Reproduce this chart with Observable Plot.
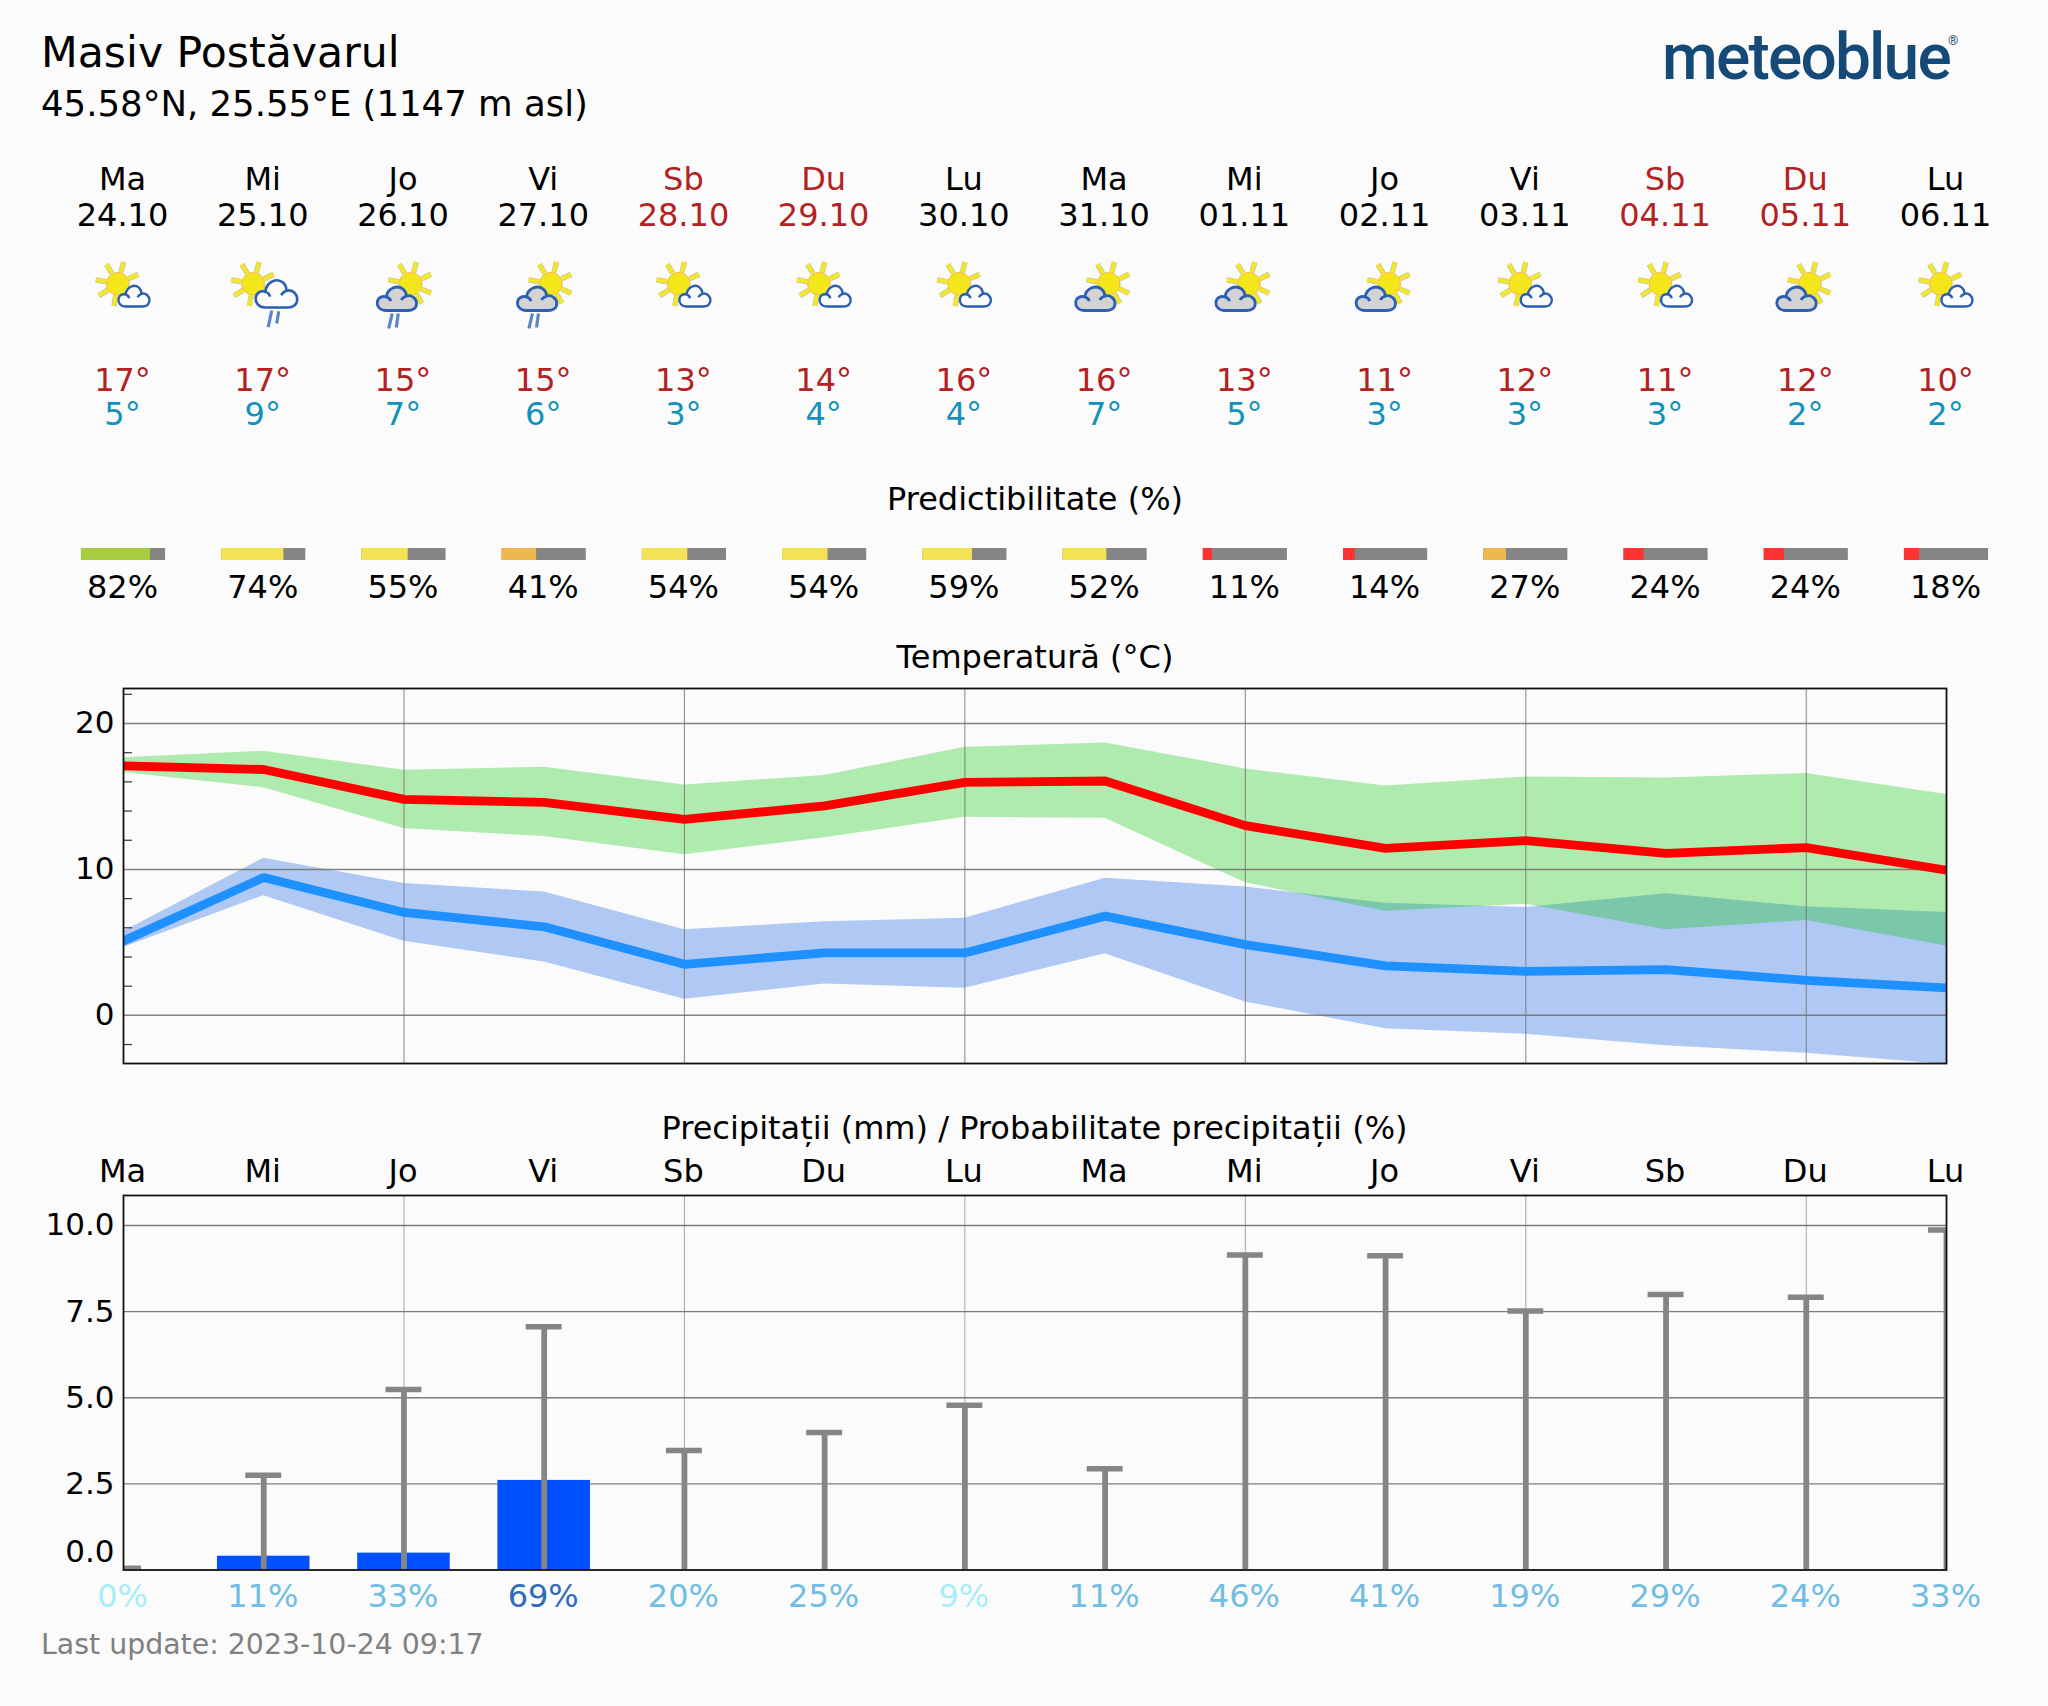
<!DOCTYPE html>
<html><head><meta charset="utf-8">
<script src="https://cdn.jsdelivr.net/npm/d3@7"></script>
<script src="https://cdn.jsdelivr.net/npm/@observablehq/plot@0.6"></script>
<style>
html,body{margin:0;padding:0;background:#fbfbfb}
#page{position:relative;width:2048px;height:1706px;overflow:hidden;background:#fbfbfb;font-family:"DejaVu Sans",sans-serif}
#page>div,#page>figure,#page>svg{position:absolute;margin:0}
.t{white-space:nowrap;line-height:1}
svg{background:transparent!important;overflow:visible}
</style></head><body><div id="page"></div>
<script>
const dayNames=["Ma","Mi","Jo","Vi","Sb","Du","Lu","Ma","Mi","Jo","Vi","Sb","Du","Lu"];
const dates=["24.10","25.10","26.10","27.10","28.10","29.10","30.10","31.10","01.11","02.11","03.11","04.11","05.11","06.11"];
const iconKinds=["A","B","C","C","A","A","A","D","D","D","A","A","D","A"];
const hiLabels=[17,17,15,15,13,14,16,16,13,11,12,11,12,10];
const loLabels=[5,9,7,6,3,4,4,7,5,3,3,3,2,2];
const predictability=[82,74,55,41,54,54,59,52,11,14,27,24,24,18];
const tMax=[17.1,16.85,14.8,14.6,13.43,14.35,15.97,16.06,13.0,11.44,11.97,11.1,11.5,9.95];
const tMaxHi=[17.65,18.1,16.8,17.0,15.79,16.43,18.37,18.67,16.89,15.72,16.34,16.27,16.57,15.13];
const tMaxLo=[16.65,15.6,12.8,12.25,11.0,12.17,13.57,13.5,9.08,7.14,7.62,5.86,6.5,4.76];
const tMin=[5.1,9.45,7.05,6.07,3.5,4.28,4.28,6.8,4.85,3.39,3.02,3.13,2.4,1.88];
const tMinHi=[5.75,10.77,9.03,8.45,5.86,6.41,6.66,9.4,8.79,7.69,7.39,8.33,7.44,7.05];
const tMinLo=[4.65,8.2,5.07,3.65,1.1,2.15,1.85,4.23,0.92,-0.91,-1.3,-2.08,-2.6,-3.36];
const precip=[0,0.4,0.49,2.6,0,0,0,0,0,0,0,0,0,0];
const precipMax=[0.05,2.75,5.24,7.06,3.47,3.99,4.78,2.94,9.14,9.12,7.52,8.0,7.92,9.87];
const precipProb=[0,11,33,69,20,25,9,11,46,41,19,29,24,33];
const tempTicks=[0,10,20], tempMinor=[-2,2,4,6,8,12,14,16,18,22], precipTicks=[2.5,5,7.5,10];

const days=dayNames.map((_,i)=>i);
const font='"DejaVu Sans",sans-serif';
const frame={width:2048,marginLeft:123,marginRight:102};
const xDom={domain:[0,13]};
const weekend=i=>dayNames[i]==="Sb"||dayNames[i]==="Du";
const RED="#b22222",INK="#000";
const page=document.getElementById("page");
function place(el,top,left=0){el.style.top=top+"px";el.style.left=left+"px";page.appendChild(el);}
function label(text,x,base,size,color,extra=""){
  const d=document.createElement("div");d.className="t";d.textContent=text;
  d.style.cssText+=`font-size:${size}px;color:${color};${extra}`;
  place(d,base-0.846*size,x);return d;
}
/* weather icons */
function sun(cx,cy){
  const angs=[25,60,100,148,190,240,285,335];
  const ray=(s,w)=>angs.map(a=>{const r=a*Math.PI/180;
    return `<line x1="${cx+12*Math.cos(r)}" y1="${cy+12*Math.sin(r)}" x2="${cx+22.5*Math.cos(r)}" y2="${cy+22.5*Math.sin(r)}" stroke="${s}" stroke-width="${w}"/>`}).join("");
  return ray("#c9c6a0",5.4)+ray("#f4e826",3.8)+`<circle cx="${cx}" cy="${cy}" r="11.4" fill="#f3e71c" stroke="#f6b64a" stroke-width="1"/>`;
}
function cloud(x,y,w,h,fill,sw){
  const sx=w/96,sy=h/64;
  return `<g transform="translate(${x-2*sx} ${y-4*sy}) scale(${sx} ${sy})"><path vector-effect="non-scaling-stroke" fill="${fill}" stroke="#2a5fb3" stroke-width="${sw}" stroke-linejoin="round" d="M24 68C8 68 1 57 2 47C3 36 13 30 24 33C27 12 50 1 65 13C71 18 73 25 73 31C86 27 98 38 98 50C98 62 88 68 76 68Z"/><path vector-effect="non-scaling-stroke" fill="none" stroke="#2a5fb3" stroke-width="${sw}" d="M24 33C30 35 34 39 35 44M73 31C68 33 63 36 61 41"/></g>`;
}
function rain(a){return a.map(([x1,y1,x2,y2])=>`<line x1="${x1}" y1="${y1}" x2="${x2}" y2="${y2}" stroke="#5a86c6" stroke-width="3.2"/>`).join("");}
const iconBody={
  A:sun(34.3,28.3)+cloud(35,29,31,22,"#fbfbfb",2.4),
  B:sun(29.5,28.3)+cloud(32,23,41.5,29,"#fbfbfb",2.6)+rain([[48,55,44.5,71.7],[55,55.7,53,68]]),
  C:sun(46.6,28.3)+cloud(13.3,30,39.3,25,"#d3d3d3",2.8)+rain([[28.3,58,24.7,73],[34.3,58,32.3,72]]),
  D:sun(43.6,28.3)+cloud(10.6,30,39.3,25,"#d3d3d3",2.8)
};
const iconSrc=k=>"data:image/svg+xml,"+encodeURIComponent(`<svg xmlns="http://www.w3.org/2000/svg" width="80" height="80" viewBox="0 0 80 80">${iconBody[k]}</svg>`);

/* title block */
label("Masiv Postăvarul",41,66.7,42.6,INK);
label("45.58°N, 25.55°E (1147 m asl)",41,116,35.5,INK);
label("Last update: 2023-10-24 09:17",41,1655,28.4,"#808080");
label("meteoblue",1662,80,64,"#154a78",'font-family:Roboto,sans-serif;font-weight:500;letter-spacing:-1.8px;');
label("®",1948,45,13,"#154a78",'font-family:Roboto,sans-serif;');

/* header rows drawn on the shared day scale */
const textRow=(vals,dy,fill,size=32)=>Plot.text(vals,{x:(d,i)=>i,text:d=>d,frameAnchor:"top",lineAnchor:"bottom",dy,dx:-1,fontSize:size,fill});
const header=Plot.plot({...frame,height:680,marginTop:0,marginBottom:0,x:{...xDom,axis:null},style:{background:"transparent",fontFamily:font},
  marks:[
    textRow(dayNames,189,(d,i)=>weekend(i)?RED:INK),
    textRow(dates,225.7,(d,i)=>weekend(i)?RED:INK),
    Plot.image(days,{x:d=>d,src:d=>iconSrc(iconKinds[d]),frameAnchor:"top",dy:295,width:80,height:80}),
    textRow(hiLabels.map(v=>v+"°"),390,RED),
    textRow(loLabels.map(v=>v+"°"),424.5,"#1292ba"),
    textRow(predictability.map(v=>v+"%"),597,INK),
    Plot.text(["Predictibilitate (%)"],{frameAnchor:"top",lineAnchor:"bottom",dy:509,fontSize:32,fill:INK}),
    Plot.text(["Temperatură (°C)"],{frameAnchor:"top",lineAnchor:"bottom",dy:667,fontSize:32,fill:INK}),
  ]});
place(header,0);

/* predictability bars */
const predColor=p=>p>=80?"#a8cc3f":p>=50?"#f3e354":p>=25?"#efb84f":"#ff3333";
const predBar=Plot.plot({...frame,height:12,marginTop:0,marginBottom:0,x:{...xDom,axis:null},style:{background:"transparent"},
  marks:[
    Plot.rectX(days,{x1:d=>d-0.3,x2:d=>d+0.3,fill:"#858585"}),
    Plot.rectX(days,{x1:d=>d-0.3,x2:d=>d-0.3+0.6*predictability[d]/100,fill:d=>predColor(predictability[d])}),
  ]});
place(predBar,548);

/* temperature */
const gridColor="#6e6e6e";
const temp=Plot.plot({...frame,height:395,marginTop:10,marginBottom:10,x:{...xDom,axis:null},
  y:{domain:[-3.3,22.4],axis:null},style:{background:"transparent",fontFamily:font},
  marks:[
    Plot.areaY(days,{x:d=>d,y1:d=>tMinLo[d],y2:d=>tMinHi[d],fill:"rgb(0,84,228)",fillOpacity:0.3,clip:true}),
    Plot.areaY(days,{x:d=>d,y1:d=>tMaxLo[d],y2:d=>tMaxHi[d],fill:"rgb(0,198,0)",fillOpacity:0.3,clip:true}),
    Plot.ruleX(days.filter(d=>d%2===0&&d>0&&d<13),{stroke:gridColor,strokeOpacity:0.75,strokeWidth:1.1}),
    Plot.ruleY(tempTicks,{stroke:gridColor,strokeOpacity:0.85,strokeWidth:1.5}),
    Plot.ruleY(tempMinor,{x1:0,x2:0.064,stroke:"#333",strokeWidth:1.2}),
    Plot.line(days,{x:d=>d,y:d=>tMin[d],stroke:"#1e90ff",strokeWidth:8.8,strokeLinejoin:"miter",clip:true}),
    Plot.line(days,{x:d=>d,y:d=>tMax[d],stroke:"#ff0000",strokeWidth:8.8,strokeLinejoin:"miter",clip:true}),
    Plot.axisY({ticks:tempTicks,tickSize:0,tickPadding:9,fontSize:31,label:null,tickFormat:d=>d}),
    Plot.frame({stroke:"#111",strokeWidth:1.8}),
  ]});
place(temp,678);

/* precipitation */
const probColor=p=>p<10?"#a8eef8":p<50?"#72bde3":"#2f6bb8";
const prec=Plot.plot({...frame,height:505,marginTop:55,marginBottom:75.5,
  x:{...xDom,axis:null},y:{domain:[0,10.87],axis:null},style:{background:"transparent",fontFamily:font},
  marks:[
    Plot.ruleX(days.filter(d=>d%2===0&&d>0&&d<13),{stroke:gridColor,strokeOpacity:0.6,strokeWidth:1}),
    Plot.ruleY(precipTicks,{stroke:gridColor,strokeOpacity:0.9,strokeWidth:1.4}),
    Plot.rectY(days.filter(d=>precip[d]>0),{x1:d=>d-0.33,x2:d=>d+0.33,y1:0,y2:d=>precip[d],fill:"#0050ff"}),
    Plot.ruleX(days,{x:d=>d,y1:0,y2:d=>precipMax[d],stroke:"#858585",strokeWidth:5.8,clip:true}),
    Plot.ruleY(days,{y:d=>precipMax[d],x1:d=>d-0.128,x2:d=>d+0.128,stroke:"#858585",strokeWidth:5.5,clip:true}),
    Plot.axisY({ticks:precipTicks,tickSize:0,tickPadding:9,fontSize:31,label:null,tickFormat:d3.format(".1f")}),
    Plot.text(["0.0"],{frameAnchor:"bottom-left",textAnchor:"end",lineAnchor:"bottom",dx:-9,dy:-8,fontSize:31,fill:INK}),
    Plot.text(dayNames,{x:(d,i)=>i,text:d=>d,frameAnchor:"top",lineAnchor:"bottom",dy:-13.6,dx:-1,fontSize:32,fill:INK}),
    Plot.text(precipProb,{x:(d,i)=>i,text:d=>d+"%",frameAnchor:"bottom",lineAnchor:"bottom",dy:36.5,dx:-1,fontSize:32,fill:d=>probColor(d)}),
    Plot.frame({stroke:"#111",strokeWidth:1.8}),
  ]});
place(prec,1140);
label("Precipitații (mm) / Probabilitate precipitații (%)",0,1139,32,INK,"width:2069px;text-align:center;");
</script></body></html>
